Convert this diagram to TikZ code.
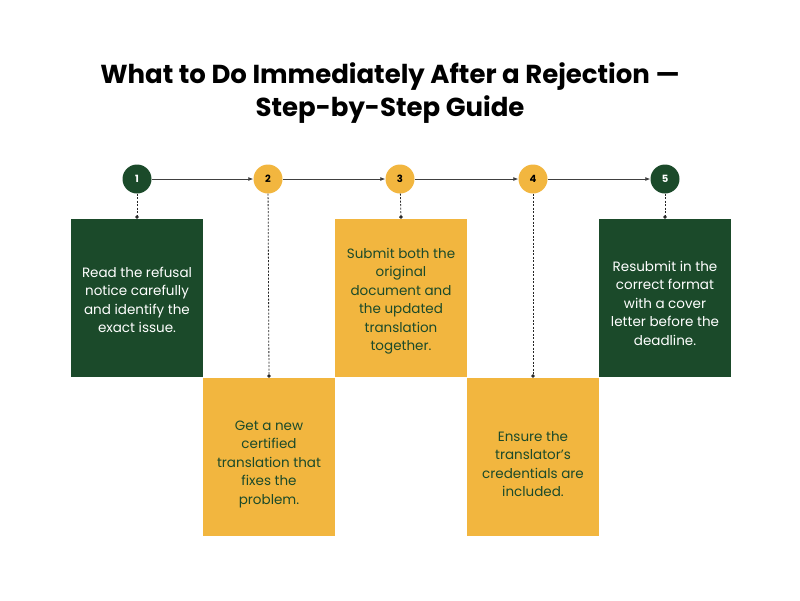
\documentclass[tikz,border=0pt]{standalone}
\usepackage{fontspec}
\setmainfont{Poppins}
\usetikzlibrary{arrows.meta}
\definecolor{dg}{HTML}{1B4A2A}
\definecolor{yl}{HTML}{F2B63F}
\begin{document}
\begin{tikzpicture}[x=1pt,y=-1pt,
 circ/.style={circle,minimum size=29pt,inner sep=0pt,font=\bfseries\fontsize{10}{10}\selectfont},
 box/.style={minimum width=132pt,minimum height=158pt,inner sep=0pt,align=center,font=\fontsize{13.5}{18.5}\selectfont},
 gb/.style={box,fill=dg,text=white},
 yb/.style={box,fill=yl,text=dg},
 txt/.style={align=center,font=\fontsize{13.5}{18.5}\selectfont},
 arr/.style={draw=black!75,line width=0.8pt,-{Latex[length=5pt,width=4pt]}},
 dot/.style={draw=black!85,line width=0.8pt,dash pattern=on 2pt off 1.5pt,-{Circle[length=3.5pt]}}]
\useasboundingbox (0,0) rectangle (800,600);
\node[font=\bfseries\fontsize{26}{33}\selectfont,align=center] (t) at (390,93) {What to Do Immediately After a Rejection —\\Step-by-Step Guide};
\node[circ,fill=dg,text=white] (c1) at (137,179) {1};
\node[circ,fill=yl] (c2) at (268,179) {2};
\node[circ,fill=yl] (c3) at (400,179) {3};
\node[circ,fill=yl] (c4) at (533,179) {4};
\node[circ,fill=dg,text=white] (c5) at (665,179) {5};
\node[box,fill=dg] (b1) at (137,298) {};
\node[box,fill=yl] (b2) at (269,457) {};
\node[box,fill=yl] (b3) at (401,298) {};
\node[box,fill=yl] (b4) at (533,457) {};
\node[box,fill=dg] (b5) at (665,298) {};
\node[txt,text=white] (t1) at (137,300) {Read the refusal\\notice carefully\\and identify the\\exact issue.};
\node[txt,text=dg] (t2) at (269,464) {Get a new\\certified\\translation that\\fixes the\\problem.};
\node[txt,text=dg] (t3) at (401,301) {Submit both the\\original\\document and\\the updated\\translation\\together.};
\node[txt,text=dg] (t4) at (533,464) {Ensure the\\translator’s\\credentials are\\included.};
\node[txt,text=white] (t5) at (665,303) {Resubmit in the\\correct format\\with a cover\\letter before the\\deadline.};
\draw[arr] (c1) -- (c2);
\draw[arr] (c2) -- (c3);
\draw[arr] (c3) -- (c4);
\draw[arr] (c4) -- (c5);
\draw[dot] (c1) -- (b1.north);
\draw[dot] (c2) -- (b2.north);
\draw[dot] (c3) -- (b3.north);
\draw[dot] (c4) -- (b4.north);
\draw[dot] (c5) -- (b5.north);
\end{tikzpicture}
\end{document}
